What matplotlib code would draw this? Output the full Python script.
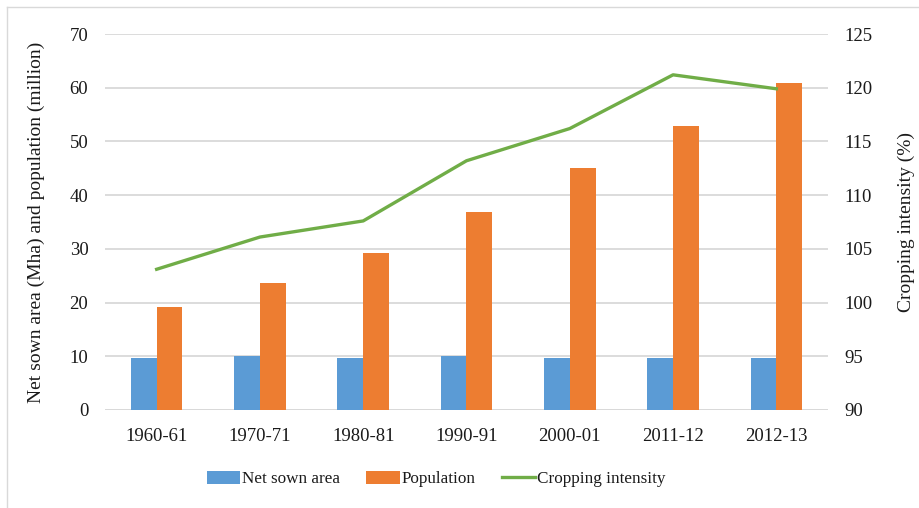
import matplotlib
matplotlib.use("Agg")
import matplotlib.pyplot as plt
import numpy as np
from matplotlib.lines import Line2D
from matplotlib.patches import Patch

plt.rcParams['font.family'] = ['Liberation Serif', 'DejaVu Serif']

periods = ["1960-61", "1970-71", "1980-81", "1990-91", "2000-01", "2011-12", "2012-13"]
net_sown_area = [9.7, 10.0, 9.7, 10.0, 9.7, 9.7, 9.7]
population = [19.2, 23.7, 29.2, 36.9, 45.1, 52.8, 60.8]
cropping_intensity = [103.1, 106.1, 107.6, 113.2, 116.2, 121.2, 119.9]

c_blue = "#5B9BD5"
c_orange = "#ED7D31"
c_green = "#70AD47"
c_grid = "#D9D9D9"
c_text = "#1a1a1a"

fig = plt.figure(figsize=(9.2, 5.08), dpi=100)
ax = fig.add_axes([105/920, 1 - 410/508, (828 - 105)/920, (410 - 34)/508])

x = np.arange(len(periods))
w = 0.25
ax.bar(x - w/2, net_sown_area, width=w, color=c_blue, zorder=2)
ax.bar(x + w/2, population, width=w, color=c_orange, zorder=2)

ax.set_xlim(-0.5, len(periods) - 0.5)
ax.set_ylim(0, 70)
ax.set_yticks(np.arange(0, 71, 10))
ax.yaxis.grid(True, color=c_grid, linewidth=1.3, zorder=0)
ax.set_axisbelow(True)
for s in ax.spines.values():
    s.set_visible(False)
ax.tick_params(axis='both', length=0, labelsize=13.5, colors=c_text)
ax.tick_params(axis='x', pad=13)
ax.tick_params(axis='y', pad=12)
ax.set_xticks(x)
ax.set_xticklabels(periods)
ax.axhline(0, color=c_grid, linewidth=1.3, zorder=1)
ax.set_ylabel("Net sown area (Mha) and population (million)", fontsize=14,
              labelpad=18, color=c_text)

ax2 = ax.twinx()
ax2.plot(x, cropping_intensity, color=c_green, linewidth=2.4, zorder=3)
ax2.set_ylim(90, 125)
ax2.set_yticks(np.arange(90, 126, 5))
for s in ax2.spines.values():
    s.set_visible(False)
ax2.tick_params(axis='y', length=0, labelsize=13.5, pad=12, colors=c_text)
ax2.set_ylabel("Cropping intensity (%)", fontsize=14, labelpad=18, color=c_text)

handles = [
    Patch(facecolor=c_blue, edgecolor='none'),
    Patch(facecolor=c_orange, edgecolor='none'),
    Line2D([0], [0], color=c_green, linewidth=2.4),
]
labels = ["Net sown area", "Population", "Cropping intensity"]
fig.legend(handles, labels, loc='center', bbox_to_anchor=(436/920, 1 - 479/508), ncol=3,
           frameon=False, fontsize=12.3, handlelength=1.95, handleheight=0.8,
           handletextpad=0.1, columnspacing=1.55, labelcolor=c_text)

# light frame along the top and left edges
fig.add_artist(Line2D([7/920, 1], [1 - 7/508, 1 - 7/508], color="#D9D9D9", linewidth=1,
                      transform=fig.transFigure))
fig.add_artist(Line2D([7/920, 7/920], [0, 1 - 7/508], color="#D9D9D9", linewidth=1,
                      transform=fig.transFigure))

fig.savefig("out.png", dpi=100, facecolor="white")
